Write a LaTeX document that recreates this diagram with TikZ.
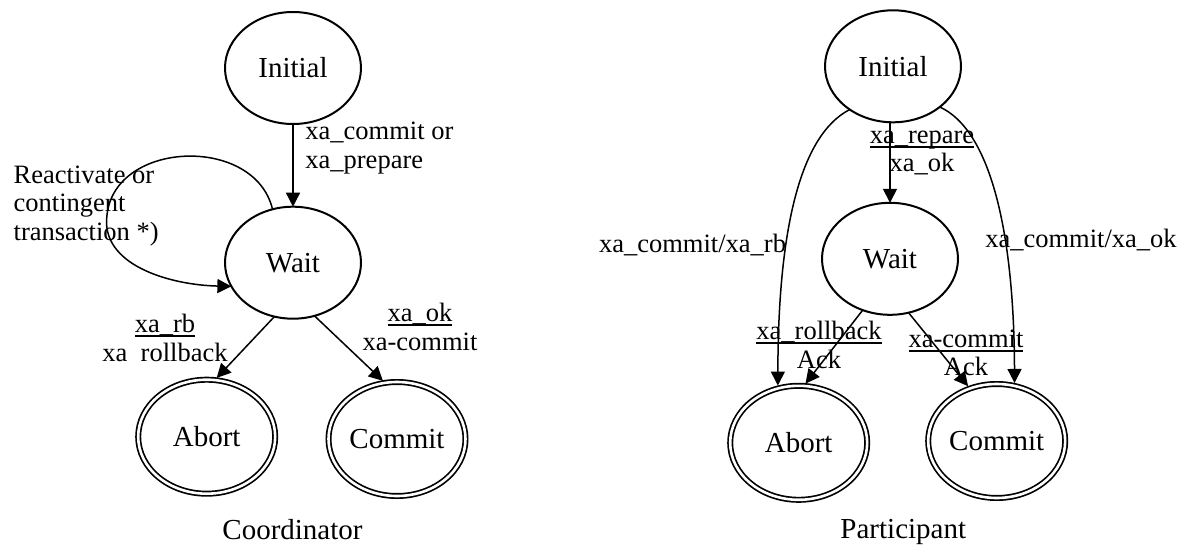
\documentclass[tikz,border=0pt]{standalone}
\usepackage{fontspec}
\setmainfont{Liberation Serif}
\usetikzlibrary{arrows.meta,shapes.geometric}
\newcommand\stfont{\fontsize{14.5}{17}\selectfont}
\newcommand\edgefont{\fontsize{13.25}{14.3}\selectfont}
% underline drawn just below the baseline, through the underscores
\newcommand\ulbl[1]{\setbox0\hbox{#1}\rlap{\rule[-2.3pt]{\wd0}{1pt}}\box0}
\begin{document}
\begin{tikzpicture}[x=0.5pt,y=-0.5pt,
  state/.style={ellipse,draw,line width=1pt,minimum width=68pt,minimum height=56pt,
    inner sep=0pt,outer sep=0pt,font=\stfont},
  final/.style={ellipse,draw,double,double distance=1.3pt,line width=0.85pt,
    minimum width=68.5pt,minimum height=57pt,inner sep=0pt,outer sep=0pt,font=\stfont},
  trans/.style={-{Triangle[length=7pt,width=7pt]},line width=0.75pt},
  tofinal/.style={trans,shorten >=1.5pt},
  lbl/.style={inner sep=0pt,font=\edgefont},
  caption/.style={inner sep=0pt,font=\stfont}]
\useasboundingbox (0,0) rectangle (1184,546);

% Coordinator
\node[state] (linit) at (293,68) {Initial};
\node[state] (lwait) at (293,262.7) {Wait};
\node[final] (labort) at (206.7,436.7) {Abort};
\node[final] (lcommit) at (397,439) {Commit};

\draw[trans] (linit) -- (lwait);
\draw[trans] (lwait.111) .. controls (255,135) and (115,140) .. (107,215)
  .. controls (100,265) and (170,285) .. (lwait.201);
\draw[tofinal] (lwait.251) -- (labort.82);
\draw[tofinal] (lwait.292) -- (lcommit.102);

\node[lbl,align=left,anchor=west] (lcond) at (305,148) {xa\_commit or\\xa\_prepare};
\node[lbl,align=left,anchor=west] (lloop) at (13.3,206) {Reactivate or\\contingent\\transaction *)};
\node[lbl,align=center] (lrb) at (165,338) {\ulbl{xa\_rb}\\xa\hspace{0.5em}rollback};
\node[lbl,align=center] (lok) at (420,327) {\ulbl{xa\_ok}\\xa-commit};
\node[caption] (lcap) at (292.5,530) {Coordinator};

% Participant
\node[state] (rinit) at (893,66.3) {Initial};
\node[state] (rwait) at (890,258.8) {Wait};
\node[final] (rabort) at (798.7,442.8) {Abort};
\node[final] (rcommit) at (996.7,441) {Commit};

\draw[trans] (rwait.north |- rinit.south) -- (rwait.north);
\draw[tofinal] (rinit.225) .. controls (800,135) and (778,230) .. (rabort.111);
\draw[tofinal] (rinit.319) .. controls (990,130) and (1014,230) .. (rcommit.72);
\draw[tofinal] (rwait.242) -- (rabort.85);
\draw[tofinal] (rwait.289) -- (rcommit.117);

\node[lbl,align=center] (rprep) at (922,153) {\ulbl{xa\_repare}\\xa\_ok};
\node[lbl] (rcrb) at (692.5,245) {xa\_commit/xa\_rb};
\node[lbl] (rcok) at (1081,240) {xa\_commit/xa\_ok};
\node[lbl,align=center] (rrb) at (819,345) {\ulbl{xa\_rollback}\\Ack};
\node[lbl,align=center] (rcm) at (966,353) {\ulbl{xa-commit}\\Ack};
\node[caption] (rcap) at (903.3,531.7) {Participant};
\end{tikzpicture}
\end{document}
